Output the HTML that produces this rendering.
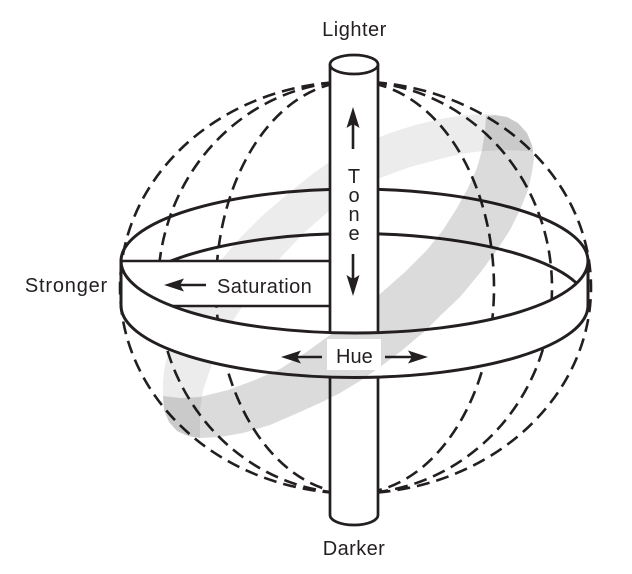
<!DOCTYPE html>
<html>
<head>
<meta charset="utf-8">
<style>
  html, body { margin:0; padding:0; background:#fff; }
  svg { display:block; }
  text { font-family: "Liberation Sans", "DejaVu Sans", sans-serif; fill:#231f20; font-size:20px; }
</style>
</head>
<body>
<svg width="632" height="574" viewBox="0 0 632 574" xmlns="http://www.w3.org/2000/svg">
  <rect width="632" height="574" fill="#fff"/>

  <!-- gray band: back face (light) -->
  <path fill="#ececec" d="M163,396 L163,380 L165,365 L170,345 L178,325 L190,303 L205,281 L222,259 L240,238 L262,216 L290,192 L315,172 L340,155 L365,143 L390,133 L415,125 L440,119 L465,115 L486,114 L495,115 L507,117 L518,123 L527,133 L532,145 L533,152 L527,151 L505,150 L483,151 L460,154 L440,159 L410,167 L380,178 L355,192 L330,210 L305,232 L282,256 L262,280 L245,303 L230,325 L218,347 L210,370 L203,390 L200,410 L200,438 L188,436 L177,431 L169,422 L164,410 Z"/>

  <!-- dashed meridians -->
  <g fill="none" stroke="#231f20" stroke-width="2.6" stroke-dasharray="13 7">
    <path d="M354,81.5 A234,206 0 0 0 354,493.5"/>
    <path d="M354,81.5 A196,206 0 0 0 354,493.5"/>
    <path d="M354,81.5 A138,206 0 0 0 354,493.5"/>
    <path d="M354,81.5 A237,206 0 0 1 354,493.5"/>
    <path d="M354,81.5 A198,206 0 0 1 354,493.5"/>
    <path d="M354,81.5 A140,206 0 0 1 354,493.5"/>
  </g>

  <!-- ring back lines -->
  <g fill="none" stroke="#231f20" stroke-width="3">
    <path d="M121,261 A233.5,72 0 0 1 588,261"/>
    <path d="M121,305.5 A233.5,72 0 0 1 588,305.5"/>
  </g>

  <!-- saturation box fill -->
  <rect x="121" y="261" width="209" height="45" fill="#fff"/>

  <!-- ring front face fill -->
  <path fill="#fff" d="M121,261 A233.5,72 0 0 0 588,261 L588,305.5 A233.5,72 0 0 1 121,305.5 Z"/>

  <!-- pole lower fill -->
  <path fill="#fff" d="M330,376 H378 V515 A24,10 0 0 1 330,515 Z"/>

  <!-- gray band: front face (medium, darker where overlapping) -->
  <path fill="#000" fill-opacity="0.14" d="M163,396 L180,398 L200,397 L228,390 L255,380 L280,369 L305,353 L330,335 L355,315 L380,294 L405,272 L427,250 L443,230 L457,208 L468,188 L477,168 L482,150 L485,132 L486,116 L495,115 L507,117 L518,123 L527,133 L532,145 L534,158 L532,172 L528,190 L520,210 L510,230 L497,250 L480,273 L460,297 L440,316 L425,331 L400,352 L380,367 L360,381 L340,393 L320,403 L300,412 L270,425 L243,433 L220,437 L200,438 L188,436 L177,431 L169,422 L164,410 Z"/>

  <!-- pole upper fill -->
  <rect x="330" y="64" width="48" height="269" fill="#fff"/>

  <!-- Hue label background -->
  <rect x="327" y="339" width="54" height="31" fill="#fff"/>

  <!-- saturation box lines -->
  <g fill="none" stroke="#231f20" stroke-width="2.6">
    <path d="M121,261 H330"/>
    <path d="M172,306 H330"/>
  </g>

  <!-- ring front lines -->
  <g fill="none" stroke="#231f20" stroke-width="3">
    <path d="M121,261 A233.5,72 0 0 0 588,261"/>
    <path d="M121,305.5 A233.5,72 0 0 0 588,305.5"/>
    <path d="M121,259.5 V307"/>
    <path d="M588,259.5 V307"/>
  </g>

  <!-- pole lines -->
  <g fill="none" stroke="#231f20" stroke-width="2.7">
    <path d="M330,64.5 V333"/>
    <path d="M378,64.5 V333"/>
    <path d="M330,377 V515 A24,10 0 0 0 378,515 V377"/>
  </g>
  <ellipse cx="354" cy="64.5" rx="24" ry="9.5" fill="#fff" stroke="#231f20" stroke-width="2.7"/>

  <!-- arrows -->
  <g stroke="#231f20" stroke-width="2.6" fill="none">
    <path d="M353,123 V149"/>
    <path d="M353,254 V279"/>
    <path d="M180,285 H206"/>
    <path d="M297,357 H322"/>
    <path d="M385,357 H412"/>
  </g>
  <g fill="#231f20">
    <path d="M353,107 L359.5,128 L353,124 L346.5,128 Z"/>
    <path d="M353,296 L359.5,275 L353,279 L346.5,275 Z"/>
    <path d="M164,285 L184,278.5 L180,285 L184,291.5 Z"/>
    <path d="M281,357 L301,350.5 L297,357 L301,363.5 Z"/>
    <path d="M428,357 L408,350.5 L412,357 L408,363.5 Z"/>
  </g>

  <!-- labels -->
  <text x="354.5" y="36" text-anchor="middle" letter-spacing="0.5">Lighter</text>
  <text x="354" y="555" text-anchor="middle" letter-spacing="0.4">Darker</text>
  <text x="108" y="292" text-anchor="end" letter-spacing="0.8">Stronger</text>
  <text x="217" y="293" letter-spacing="0.4">Saturation</text>
  <text x="336" y="363">Hue</text>
  <text x="354" y="183" text-anchor="middle">T</text>
  <text x="354" y="202" text-anchor="middle">o</text>
  <text x="354" y="221" text-anchor="middle">n</text>
  <text x="354" y="240" text-anchor="middle">e</text>
</svg>
</body>
</html>
